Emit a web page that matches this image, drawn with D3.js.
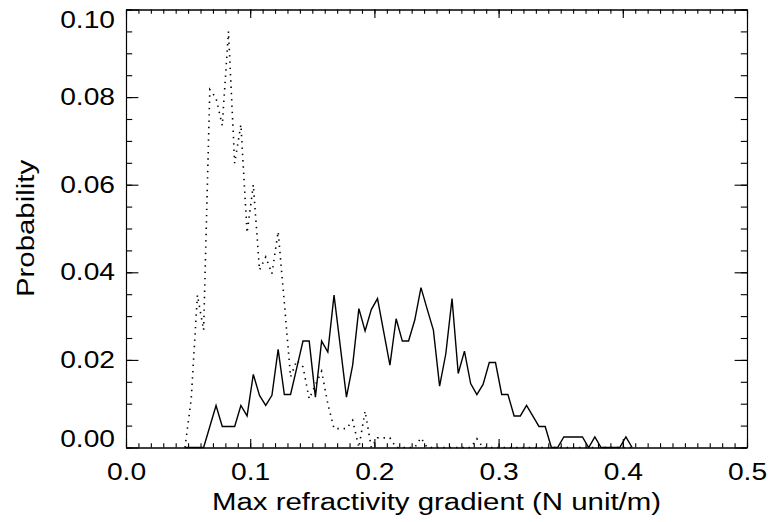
<!DOCTYPE html>
<html>
<head>
  <meta charset="UTF-8">
  <title>Probability vs max refractivity gradient</title>
  <script src="https://cdn.jsdelivr.net/npm/d3@7"></script>
  <style>
    body { margin: 0; background: #fff; }
    text { font-family: "Liberation Sans", Arial, Helvetica, sans-serif; fill: #000; }
  </style>
</head>
<body>

<div class="chart"></div>

<script>

  // bin centres (N unit/m)
  var binX = [
    0.0475, 0.0525, 0.0575, 0.0625, 0.0675, 0.0725, 0.0775, 0.0825, 0.0875, 0.0925,
    0.0975, 0.1025, 0.1075, 0.1125, 0.1175, 0.1225, 0.1275, 0.1325, 0.1375, 0.1425,
    0.1475, 0.1525, 0.1575, 0.1625, 0.1675, 0.1725, 0.1775, 0.1825, 0.1875, 0.1925,
    0.1975, 0.2025, 0.2075, 0.2125, 0.2175, 0.2225, 0.2275, 0.2325, 0.2375, 0.2425,
    0.2475, 0.2525, 0.2575, 0.2625, 0.2675, 0.2725, 0.2775, 0.2825, 0.2875, 0.2925,
    0.2975, 0.3025, 0.3075, 0.3125, 0.3175, 0.3225, 0.3275, 0.3325, 0.3375, 0.3425,
    0.3475, 0.3525, 0.3575, 0.3625, 0.3675, 0.3725, 0.3775, 0.3825, 0.3875, 0.3925,
    0.3975, 0.4025, 0.4075
  ];

  // solid curve
  var solidP = [
    0, 0, 0, 0, 0.0048, 0.0096, 0.0048, 0.0048, 0.0048, 0.0096,
    0.0072, 0.0167, 0.0119, 0.0096, 0.0119, 0.0224, 0.0121, 0.0121, 0.0182, 0.0243,
    0.0243, 0.0115, 0.0243, 0.0218, 0.0348, 0.0232, 0.0115, 0.0188, 0.0317, 0.0266,
    0.0315, 0.0340, 0.0264, 0.0188, 0.0294, 0.0243, 0.0243, 0.0291, 0.0365, 0.0316,
    0.0268, 0.0140, 0.0214, 0.0340, 0.0169, 0.0220, 0.0146, 0.0121, 0.0144, 0.0194,
    0.0194, 0.0121, 0.0121, 0.0072, 0.0072, 0.0096, 0.0072, 0.0048, 0.0048, 0,
    0, 0.0024, 0.0024, 0.0024, 0.0024, 0, 0.0024, 0, 0, 0,
    0, 0.0024, 0
  ];

  // dotted curve
  var dottedP = [
    0, 0.0110, 0.0348, 0.0268, 0.0817, 0.0798, 0.0735, 0.0950, 0.0649, 0.0737,
    0.0490, 0.0600, 0.0405, 0.0435, 0.0397, 0.0493, 0.0330, 0.0161, 0.0199, 0.0184,
    0.0111, 0.0143, 0.0174, 0.0100, 0.0043, 0.0043, 0.0043, 0.0062, 0, 0.0083,
    0, 0.0022, 0.0022, 0.0022, 0, 0, 0, 0, 0.0022, 0,
    0, 0, 0, 0, 0, 0, 0, 0.0020, 0, 0,
    0, 0, 0, 0, 0, 0, 0, 0, 0, 0,
    0, 0, 0, 0, 0, 0, 0, 0, 0, 0,
    0, 0, 0
  ];

  var xMajor = [0.0, 0.1, 0.2, 0.3, 0.4, 0.5];
  var yMajor = [0.00, 0.02, 0.04, 0.06, 0.08, 0.10];

  (function () {
    var W = 768, H = 522;
    var m = { left: 126, right: 747, top: 9.5, bottom: 447.5 };
    var stretch = 1.2;   // glyphs in the reference are wider than Helvetica

    var svg = d3.select('.chart')
      .append('svg')
        .attr('width', W)
        .attr('height', H);

    var x = d3.scaleLinear().domain([0, 0.5]).range([m.left, m.right]);
    var y = d3.scaleLinear().domain([0, 0.1]).range([m.bottom, m.top]);

    var xMinor = d3.range(0, 0.5001, 0.01);
    var yMinor = d3.range(0, 0.1001, 0.005);

    var xLong = 8.5, xShort = 4.3, yLong = 12.4, yShort = 6.2;

    function drawAxis(axis, tx, ty) {
      var g = svg.append('g')
        .attr('transform', 'translate(' + tx + ',' + ty + ')')
        .call(axis);
      g.selectAll('path, line').attr('stroke', '#000').attr('stroke-width', 1.1);
      return g;
    }

    // minor ticks on all four sides, pointing inwards
    drawAxis(d3.axisBottom(x).tickValues(xMinor).tickSize(-xShort).tickSizeOuter(0).tickFormat(''), 0, m.bottom);
    drawAxis(d3.axisTop(x).tickValues(xMinor).tickSize(-xShort).tickSizeOuter(0).tickFormat(''), 0, m.top);
    drawAxis(d3.axisLeft(y).tickValues(yMinor).tickSize(-yShort).tickSizeOuter(0).tickFormat(''), m.left, 0);
    drawAxis(d3.axisRight(y).tickValues(yMinor).tickSize(-yShort).tickSizeOuter(0).tickFormat(''), m.right, 0);

    // major ticks
    drawAxis(d3.axisTop(x).tickValues(xMajor).tickSize(-xLong).tickSizeOuter(0).tickFormat(''), 0, m.top);
    drawAxis(d3.axisRight(y).tickValues(yMajor).tickSize(-yLong).tickSizeOuter(0).tickFormat(''), m.right, 0);

    var gx = drawAxis(d3.axisBottom(x).tickValues(xMajor).tickSize(-xLong).tickSizeOuter(0)
      .tickPadding(16).tickFormat(d3.format('.1f')), 0, m.bottom);
    gx.selectAll('text')
      .attr('font-size', 23.5)
      .attr('transform', 'scale(' + stretch + ',1)');

    var gy = drawAxis(d3.axisLeft(y).tickValues(yMajor).tickSize(-yLong).tickSizeOuter(0)
      .tickPadding(11 / stretch).tickFormat(d3.format('.2f')), m.left, 0);
    gy.selectAll('text')
      .attr('font-size', 23.5)
      .attr('transform', 'scale(' + stretch + ',1)')
      // keep the end labels inside the frame, as in the reference
      .attr('y', d => {
        var c = Math.min(Math.max(y(d), m.top + 10), m.bottom - 9);
        return c - y(d);
      });

    // curves
    var pts = function (vals) {
      return binX.map((v, i) => ({ x: v, p: vals[i] }));
    };
    var line = d3.line().x(d => x(d.x)).y(d => y(d.p));

    svg.append('path')
      .datum(pts(dottedP))
      .attr('d', line)
      .attr('fill', 'none')
      .attr('stroke', '#000')
      .attr('stroke-width', 1.6)
      .attr('stroke-dasharray', '1.4,4.9');

    svg.append('path')
      .datum(pts(solidP))
      .attr('d', line)
      .attr('fill', 'none')
      .attr('stroke', '#000')
      .attr('stroke-width', 1.4);

    // axis titles
    svg.append('text')
      .attr('transform', 'translate(' + ((m.left + m.right) / 2) + ',510) scale(' + stretch + ',1)')
      .attr('text-anchor', 'middle')
      .attr('font-size', 24.5)
      .text('Max refractivity gradient (N unit/m)');

    svg.append('text')
      .attr('transform', 'translate(34,' + ((m.top + m.bottom) / 2) + ') rotate(-90) scale(' + stretch + ',1)')
      .attr('text-anchor', 'middle')
      .attr('font-size', 24.5)
      .text('Probability');
  })();

</script>

</body>
</html>
